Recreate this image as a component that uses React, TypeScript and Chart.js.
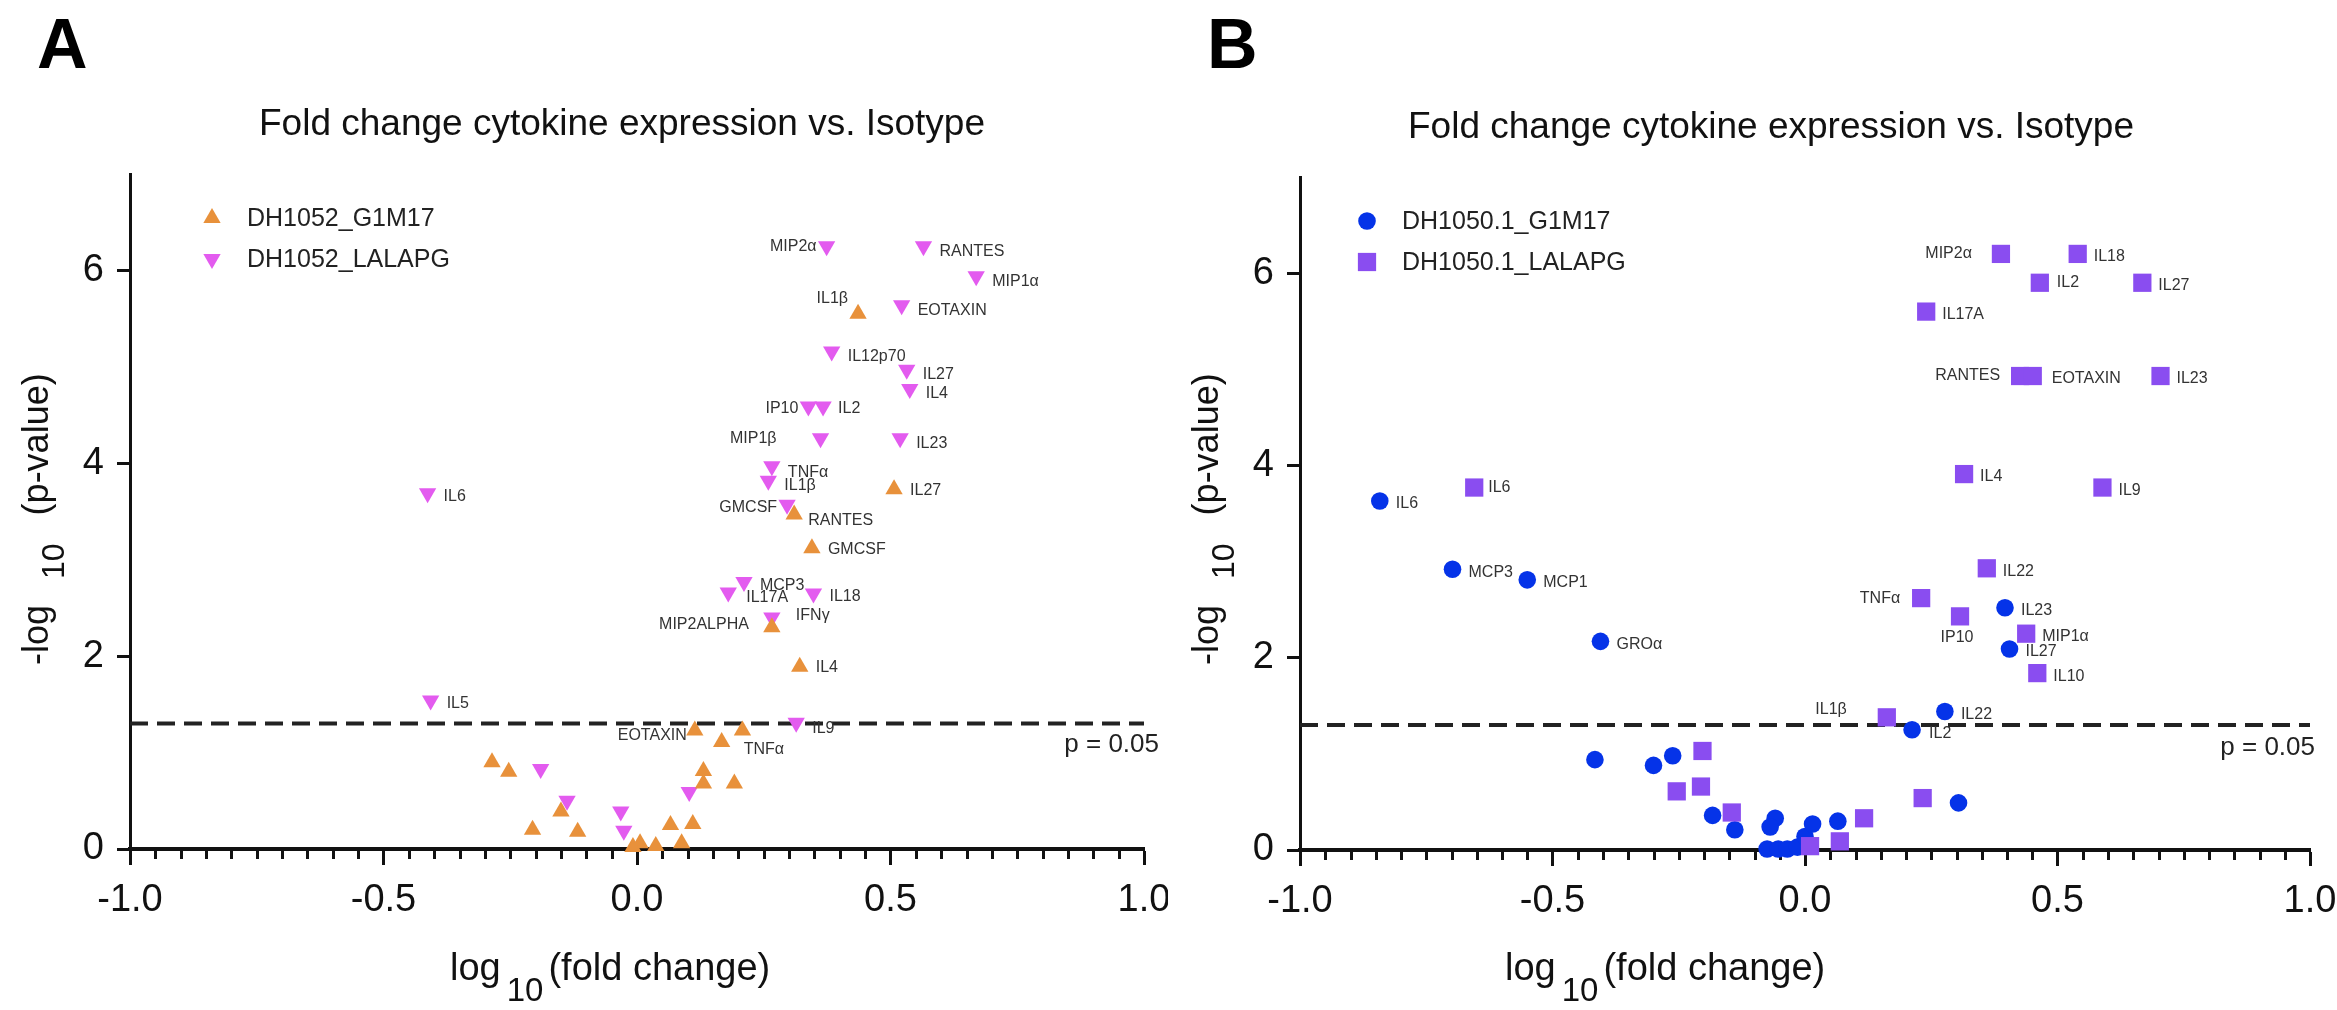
import React, { useEffect, useRef } from 'react';
import { Chart, registerables } from 'chart.js';

Chart.register(...registerables);

const FONT = '"Liberation Sans", Arial, Helvetica, sans-serif';

// ---------------- shared axis data ----------------
const xTickValues = [-1, -0.5, 0, 0.5, 1];
const xTickLabels = ['-1.0', '-0.5', '0.0', '0.5', '1.0'];
const xMinorStep = 0.05;
const yTickValues = [0, 2, 4, 6];
const yTickLabels = ['0', '2', '4', '6'];
const xRange = [-1, 1];
const yRange = [0, 7];
const pThreshold = 0.05;
const thresholdLabel = 'p = 0.05';
const panelTitle = 'Fold change cytokine expression vs. Isotype';

// ---------------- panel A data ----------------
const aG1M17Label = 'DH1052_G1M17';
const aG1M17Names = ['IL1β', 'IL27', 'RANTES', 'GMCSF', 'MIP2ALPHA', 'IL4', 'EOTAXIN', '', 'TNFα', '', '', '', '', '', '', '', '', '', '', '', '', '', ''];
const aG1M17X = [0.436, 0.507, 0.310, 0.345, 0.266, 0.321, 0.114, 0.208, 0.167, 0.131, 0.131, 0.192, 0.066, 0.110, 0.006, -0.008, 0.037, 0.088, -0.286, -0.253, -0.206, -0.150, -0.117];
const aG1M17Y = [5.55, 3.73, 3.47, 3.12, 2.30, 1.89, 1.23, 1.23, 1.11, 0.81, 0.68, 0.68, 0.25, 0.26, 0.06, 0.02, 0.03, 0.06, 0.90, 0.80, 0.20, 0.39, 0.18];

const aLALAPGLabel = 'DH1052_LALAPG';
const aLALAPGNames = ['MIP2α', 'RANTES', 'MIP1α', 'EOTAXIN', 'IL12p70', 'IL27', 'IL4', 'IP10', 'IL2', 'MIP1β', 'IL23', 'TNFα', 'IL1β', 'GMCSF', 'MCP3', 'IL17A', 'IL18', 'IFNγ', 'IL9', 'IL6', 'IL5', '', '', '', '', ''];
const aLALAPGX = [0.374, 0.565, 0.669, 0.522, 0.384, 0.532, 0.538, 0.338, 0.367, 0.362, 0.519, 0.266, 0.259, 0.296, 0.211, 0.180, 0.348, 0.266, 0.314, -0.413, -0.407, -0.190, -0.138, -0.032, -0.026, 0.103];
const aLALAPGY = [6.25, 6.25, 5.94, 5.64, 5.16, 4.97, 4.77, 4.59, 4.59, 4.26, 4.26, 3.97, 3.82, 3.57, 2.77, 2.66, 2.65, 2.40, 1.31, 3.69, 1.54, 0.83, 0.50, 0.39, 0.19, 0.59];

// ---------------- panel B data ----------------
const bG1M17Label = 'DH1050.1_G1M17';
const bG1M17Names = ['IL6', 'MCP3', 'MCP1', 'GROα', 'IL23', 'IL27', 'IL22', 'IL2', '', '', '', '', '', '', '', '', '', '', '', '', '', '', ''];
const bG1M17X = [-0.842, -0.698, -0.550, -0.405, 0.396, 0.405, 0.277, 0.212, 0.304, -0.416, -0.300, -0.262, -0.183, -0.139, -0.059, -0.069, -0.075, -0.053, -0.035, -0.015, 0.000, 0.015, 0.065];
const bG1M17Y = [3.63, 2.92, 2.81, 2.17, 2.52, 2.09, 1.44, 1.25, 0.49, 0.94, 0.88, 0.98, 0.36, 0.21, 0.33, 0.24, 0.01, 0.01, 0.01, 0.03, 0.14, 0.27, 0.30];

const bLALAPGLabel = 'DH1050.1_LALAPG';
const bLALAPGNames = ['MIP2α', 'IL18', 'IL2', 'IL27', 'IL17A', 'RANTES', 'EOTAXIN', 'IL23', 'IL4', 'IL9', 'IL22', 'TNFα', 'IP10', 'MIP1α', 'IL10', 'IL1β', 'IL6', '', '', '', '', '', '', '', ''];
const bLALAPGX = [0.388, 0.540, 0.465, 0.668, 0.240, 0.426, 0.451, 0.704, 0.315, 0.589, 0.360, 0.230, 0.307, 0.438, 0.460, 0.162, -0.655, 0.233, 0.117, -0.203, -0.254, -0.206, -0.145, 0.010, 0.069];
const bLALAPGY = [6.20, 6.20, 5.90, 5.90, 5.60, 4.93, 4.93, 4.93, 3.91, 3.77, 2.93, 2.62, 2.43, 2.25, 1.84, 1.38, 3.77, 0.54, 0.33, 1.03, 0.61, 0.66, 0.39, 0.04, 0.09];

// ---------------- label placement (dx, dy, align) ----------------
type Place = [number, number, CanvasTextAlign];
const defaultPlace: Place = [16, 3, 'left'];
const labelPlacement: Record<string, Place> = {
  'AG:IL1β': [-10, -15, 'right'],
  'AG:IL27': [16, 1, 'left'],
  'AG:RANTES': [14, 6, 'left'],
  'AG:GMCSF': [16, 1, 'left'],
  'AG:MIP2ALPHA': [-23, -3, 'right'],
  'AG:IL4': [16, 1, 'left'],
  'AG:EOTAXIN': [-8, 5, 'right'],
  'AG:TNFα': [22, 8, 'left'],
  'AL:MIP2α': [-10, 0, 'right'],
  'AL:RANTES': [16, 5, 'left'],
  'AL:MIP1α': [16, 5, 'left'],
  'AL:EOTAXIN': [16, 5, 'left'],
  'AL:IL12p70': [16, 5, 'left'],
  'AL:IL27': [16, 5, 'left'],
  'AL:IL4': [16, 5, 'left'],
  'AL:IP10': [-10, 2, 'right'],
  'AL:IL2': [15, 2, 'left'],
  'AL:MIP1β': [-44, 0, 'right'],
  'AL:IL23': [16, 5, 'left'],
  'AL:TNFα': [16, 6, 'left'],
  'AL:IL1β': [16, 5, 'left'],
  'AL:GMCSF': [-10, 3, 'right'],
  'AL:MCP3': [16, 4, 'left'],
  'AL:IL17A': [18, 5, 'left'],
  'AL:IL18': [16, 3, 'left'],
  'AL:IFNγ': [24, -2, 'left'],
  'AL:IL9': [16, 6, 'left'],
  'BL:MIP2α': [-29, 0, 'right'],
  'BL:RANTES': [-20, 0, 'right'],
  'BL:EOTAXIN': [19, 3, 'left'],
  'BL:TNFα': [-21, 0, 'right'],
  'BL:IP10': [-3, 21, 'center'],
  'BL:IL1β': [-40, -8, 'right'],
  'BL:IL2': [17, 0, 'left'],
  'BL:IL6': [14, 0, 'left'],
  'BG:IL2': [17, 4, 'left'],
};

// ---------------- colours ----------------
const ORANGE = '#E8913B';
const MAGENTA = '#E35BEF';
const BLUE = '#0533E8';
const PURPLE = '#8A4DF0';

interface SeriesDef {
  key: string;
  label: string;
  names: string[];
  x: number[];
  y: number[];
  style: 'triangle' | 'circle' | 'rect';
  rotation: number;
  radius: number;
  color: string;
  order: number;
}

interface PanelDef {
  letter: string;
  offset: number;
  width: number;
  left: number;
  top: number;
  bottom: number;
  padRight: number;
  titleX: number;
  titleY: number;
  xTitleX: number;
  pLabelDx: number;
  pLabelY: number;
  legendX: number;
  legendY: number;
  series: SeriesDef[];
}

const panelA: PanelDef = {
  letter: 'A', offset: 0, width: 1168, left: 130, top: 174, bottom: 849, padRight: 24,
  titleX: 259, titleY: 135, xTitleX: 450, pLabelDx: 15, pLabelY: 745, legendX: 212, legendY: 218,
  series: [
    { key: 'AG', label: aG1M17Label, names: aG1M17Names, x: aG1M17X, y: aG1M17Y, style: 'triangle', rotation: 0, radius: 10, color: ORANGE, order: 0 },
    { key: 'AL', label: aLALAPGLabel, names: aLALAPGNames, x: aLALAPGX, y: aLALAPGY, style: 'triangle', rotation: 180, radius: 10, color: MAGENTA, order: 1 },
  ],
};

const panelB: PanelDef = {
  letter: 'B', offset: 1168, width: 1169, left: 132, top: 177, bottom: 850, padRight: 27,
  titleX: 240, titleY: 138, xTitleX: 337, pLabelDx: 5, pLabelY: 748, legendX: 199, legendY: 221,
  series: [
    { key: 'BG', label: bG1M17Label, names: bG1M17Names, x: bG1M17X, y: bG1M17Y, style: 'circle', rotation: 0, radius: 8.8, color: BLUE, order: 1 },
    { key: 'BL', label: bLALAPGLabel, names: bLALAPGNames, x: bLALAPGX, y: bLALAPGY, style: 'rect', rotation: 0, radius: 12.9, color: PURPLE, order: 0 },
  ],
};

function drawMarker(ctx: CanvasRenderingContext2D, s: SeriesDef, x: number, y: number) {
  ctx.save();
  ctx.fillStyle = s.color;
  ctx.beginPath();
  if (s.style === 'circle') {
    ctx.arc(x, y, s.radius, 0, Math.PI * 2);
  } else if (s.style === 'rect') {
    const h = s.radius * Math.SQRT1_2;
    ctx.rect(x - h, y - h, 2 * h, 2 * h);
  } else {
    let rad = (s.rotation * Math.PI) / 180;
    for (let k = 0; k < 3; k++) {
      const px = x + Math.sin(rad) * s.radius;
      const py = y - Math.cos(rad) * s.radius;
      if (k === 0) ctx.moveTo(px, py);
      else ctx.lineTo(px, py);
      rad += (2 * Math.PI) / 3;
    }
    ctx.closePath();
  }
  ctx.fill();
  ctx.restore();
}

function makeDecor(panel: PanelDef) {
  return {
    id: 'decor' + panel.letter,
    beforeDatasetsDraw(chart: any) {
      const { ctx, chartArea } = chart;
      const xs = chart.scales.x;
      const ys = chart.scales.y;
      ctx.save();
      // minor ticks on x axis
      ctx.strokeStyle = '#111';
      ctx.lineWidth = 3;
      const n = Math.round((xRange[1] - xRange[0]) / xMinorStep);
      for (let i = 0; i <= n; i++) {
        const v = xRange[0] + i * xMinorStep;
        if (xTickValues.some((t) => Math.abs(t - v) < 1e-6)) continue;
        const px = Math.round(xs.getPixelForValue(v)) + 0.5;
        ctx.beginPath();
        ctx.moveTo(px, chartArea.bottom);
        ctx.lineTo(px, chartArea.bottom + 10);
        ctx.stroke();
      }
      // dashed significance line
      const py = ys.getPixelForValue(-Math.log10(pThreshold));
      ctx.strokeStyle = '#222';
      ctx.lineWidth = 4;
      ctx.setLineDash([18, 9]);
      ctx.beginPath();
      ctx.moveTo(chartArea.left, py);
      ctx.lineTo(chartArea.right, py);
      ctx.stroke();
      ctx.restore();
    },
    afterDatasetsDraw(chart: any) {
      const { ctx, chartArea } = chart;
      const xs = chart.scales.x;
      const ys = chart.scales.y;
      ctx.save();
      // point labels
      ctx.font = `16px ${FONT}`;
      ctx.fillStyle = '#333';
      ctx.textBaseline = 'middle';
      panel.series.forEach((s) => {
        s.names.forEach((name, j) => {
          if (!name) return;
          const px = xs.getPixelForValue(s.x[j]);
          const py = ys.getPixelForValue(s.y[j]);
          const [dx, dy, align] = labelPlacement[`${s.key}:${name}`] || defaultPlace;
          ctx.textAlign = align;
          ctx.fillText(name, px + dx, py + dy);
        });
      });

      // p = 0.05 label
      ctx.font = `26px ${FONT}`;
      ctx.fillStyle = '#222';
      ctx.textAlign = 'right';
      ctx.fillText(thresholdLabel, chartArea.right + panel.pLabelDx, panel.pLabelY);

      // legend
      ctx.font = `25px ${FONT}`;
      ctx.fillStyle = '#222';
      ctx.textAlign = 'left';
      panel.series.forEach((s, i) => {
        const ly = panel.legendY + i * 41;
        drawMarker(ctx, s, panel.legendX, ly);
        ctx.fillText(s.label, panel.legendX + 35, ly + 1);
      });

      // panel letter
      ctx.font = `bold 70px ${FONT}`;
      ctx.fillStyle = '#000';
      ctx.textBaseline = 'alphabetic';
      ctx.textAlign = 'left';
      ctx.fillText(panel.letter, chartArea.left - 93, 68);

      // panel title
      ctx.font = `37px ${FONT}`;
      ctx.fillStyle = '#111';
      ctx.fillText(panelTitle, panel.titleX, panel.titleY);

      // x axis title: log10(fold change)
      let cx = panel.xTitleX;
      ctx.font = `38px ${FONT}`;
      ctx.fillText('log', cx, 980);
      cx += ctx.measureText('log').width + 6;
      ctx.font = `33px ${FONT}`;
      ctx.fillText('10', cx, 1001);
      cx += ctx.measureText('10').width + 5;
      ctx.font = `38px ${FONT}`;
      ctx.fillText('(fold change)', cx, 980);

      // y axis title: -log 10 (p-value)
      ctx.save();
      ctx.rotate(-Math.PI / 2);
      let u = -665;
      const base = chartArea.left - 82;
      ctx.font = `36px ${FONT}`;
      ctx.fillText('-log', u, base);
      u += ctx.measureText('-log').width + 26;
      ctx.font = `32px ${FONT}`;
      ctx.fillText('10', u, base + 16);
      u += ctx.measureText('10').width + 28;
      ctx.font = `36px ${FONT}`;
      ctx.fillText('(p-value)', u, base);
      ctx.restore();

      ctx.restore();
    },
  };
}

function Panel({ def }: { def: PanelDef }) {
  const ref = useRef<HTMLCanvasElement>(null);
  useEffect(() => {
    const canvas = ref.current;
    if (!canvas) return;
    const chart = new Chart(canvas, {
      type: 'scatter',
      data: {
        datasets: def.series.map((s) => ({
          label: s.label,
          data: s.x.map((x, i) => ({ x, y: s.y[i] })),
          pointStyle: s.style,
          rotation: s.rotation,
          pointRadius: s.radius,
          pointHoverRadius: s.radius,
          pointBackgroundColor: s.color,
          pointBorderColor: s.color,
          pointBorderWidth: 0,
          backgroundColor: s.color,
          borderColor: s.color,
          borderWidth: 0,
          showLine: false,
          clip: false,
          order: s.order,
        })),
      },
      options: {
        animation: false,
        responsive: false,
        maintainAspectRatio: false,
        events: [],
        layout: { padding: { top: def.top, right: def.padRight, left: 0, bottom: 0 } },
        plugins: {
          legend: { display: false },
          tooltip: { enabled: false },
          title: { display: false },
        },
        scales: {
          x: {
            type: 'linear',
            position: 'bottom',
            min: xRange[0],
            max: xRange[1],
            afterBuildTicks: (s: any) => {
              s.ticks = xTickValues.map((v) => ({ value: v }));
            },
            afterFit: (s: any) => {
              s.height = 1010 - def.bottom;
              s.paddingLeft = 0;
              s.paddingRight = 0;
            },
            ticks: {
              callback: (_v: any, i: number) => xTickLabels[i],
              font: { family: FONT, size: 38 },
              color: '#111',
              padding: 13,
              maxRotation: 0,
              autoSkip: false,
            },
            grid: {
              drawOnChartArea: false,
              drawTicks: true,
              tickLength: 16,
              tickWidth: 3,
              tickColor: '#111',
            },
            border: { display: true, width: 4, color: '#111' },
          },
          y: {
            type: 'linear',
            position: 'left',
            min: yRange[0],
            max: yRange[1],
            afterBuildTicks: (s: any) => {
              s.ticks = yTickValues.map((v) => ({ value: v }));
            },
            afterFit: (s: any) => {
              s.width = def.left;
              s.paddingTop = 0;
              s.paddingBottom = 0;
            },
            ticks: {
              callback: (_v: any, i: number) => yTickLabels[i],
              font: { family: FONT, size: 38 },
              color: '#111',
              padding: 13,
            },
            grid: {
              drawOnChartArea: false,
              drawTicks: true,
              tickLength: 13,
              tickWidth: 3,
              tickColor: '#111',
            },
            border: { display: true, width: 3, color: '#111' },
          },
        },
      } as any,
      plugins: [makeDecor(def)],
    });
    return () => chart.destroy();
  }, [def]);
  return (
    <canvas
      ref={ref}
      width={def.width}
      height={1010}
      style={{ position: 'absolute', left: def.offset, top: 0, width: def.width, height: 1010 }}
    />
  );
}

export default function App() {
  return (
    <div style={{ position: 'absolute', left: 0, top: 0, width: 2337, height: 1010, background: '#fff', overflow: 'hidden' }}>
      <Panel def={panelA} />
      <Panel def={panelB} />
    </div>
  );
}
